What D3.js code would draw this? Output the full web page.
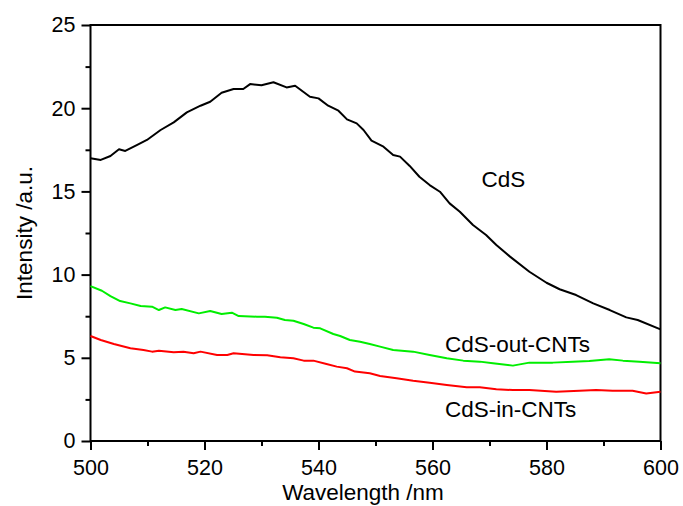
<!DOCTYPE html>
<html><head><meta charset="utf-8">
<script src="https://cdn.jsdelivr.net/npm/d3@7"></script>
<style>body{margin:0;background:#fff}svg text{font-family:"Liberation Sans",Arial,sans-serif}</style>
</head><body><svg id="c" width="683" height="506"></svg>
<script>
const xTicks = [500,520,540,560,580,600];
const yTicks = [0,5,10,15,20,25];
const cdsWl = [500,501.8,503.5,505,506.1,508.2,509.9,512.3,514.6,516.9,519.3,521,523,525.1,526.8,528,530,532.1,534.4,535.9,538.5,540,541.7,543.5,545,546.7,547.9,549.3,551.4,553.1,554.3,556,557.7,559.5,561.3,563,564.8,567.1,569.4,571.2,573.6,577,580,582.3,585.2,588.2,591.1,594,596,600];
const cdsVal = [16.99,16.89,17.13,17.53,17.43,17.79,18.09,18.69,19.15,19.75,20.15,20.39,20.93,21.15,21.15,21.45,21.38,21.56,21.25,21.35,20.69,20.59,20.15,19.85,19.33,19.09,18.69,18.05,17.69,17.19,17.09,16.53,15.88,15.38,14.98,14.28,13.78,12.98,12.38,11.78,11.08,10.17,9.51,9.12,8.77,8.27,7.87,7.43,7.27,6.71];
const outWl = [500,502,503.5,505.2,507,508.8,510.8,512,513.1,514.9,516,519,521,523,524.8,526,529.2,530.6,532.7,534.1,535.6,537.4,539.1,540.3,542.6,543.8,545.5,547.3,549,550.8,553.1,556.6,559.5,562.5,565.4,568.3,570.6,574.1,577,581.1,584.6,587.5,591,593.4,596.3,600];
const outVal = [9.31,9.03,8.71,8.41,8.27,8.11,8.07,7.87,8.03,7.87,7.93,7.67,7.81,7.63,7.71,7.51,7.47,7.47,7.41,7.27,7.23,7.03,6.81,6.77,6.43,6.31,6.07,5.97,5.83,5.67,5.47,5.37,5.17,4.97,4.83,4.77,4.67,4.53,4.71,4.71,4.77,4.81,4.91,4.83,4.77,4.67];
const inWl = [500,501.8,504.1,507,509.3,510.8,512,514.6,516.3,518.1,519.3,522.2,524,525.1,528.6,531,533.3,535.6,537.4,539.1,541.4,543.2,545,546.4,549,550.8,553.7,556.6,559.5,562.5,566,568.3,571.2,574.1,577,581.7,585.8,588.7,591.6,595.1,597.5,600];
const inVal = [6.31,6.07,5.83,5.57,5.47,5.37,5.43,5.33,5.37,5.27,5.37,5.17,5.17,5.27,5.17,5.15,5.03,4.97,4.83,4.83,4.63,4.47,4.37,4.17,4.07,3.91,3.77,3.62,3.50,3.37,3.23,3.23,3.11,3.06,3.06,2.96,3.02,3.06,3.02,3.02,2.86,2.96];
const seriesNames = ["CdS","CdS-out-CNTs","CdS-in-CNTs"];
const seriesColors = ["#000000","#00ee00","#ff0000"];

const svg = d3.select("#c");
const L=90.5,R=660.5,T=25,B=441;
const x = d3.scaleLinear().domain([500,600]).range([L,R]);
const y = d3.scaleLinear().domain([0,25]).range([B,T]);
const fsTick = 21.5, fsLab = 22.5;

// minor ticks
const gxm = svg.append("g").attr("transform",`translate(0,${B})`)
  .call(d3.axisBottom(x).tickValues(d3.range(510,600,20)).tickSize(5).tickFormat(""));
const gym = svg.append("g").attr("transform",`translate(${L},0)`)
  .call(d3.axisLeft(y).tickValues(d3.range(2.5,25,5)).tickSize(5).tickFormat(""));
const gx = svg.append("g").attr("transform",`translate(0,${B})`)
  .call(d3.axisBottom(x).tickValues(xTicks).tickSize(9).tickPadding(6));
const gy = svg.append("g").attr("transform",`translate(${L},0)`)
  .call(d3.axisLeft(y).tickValues(yTicks).tickSize(9).tickPadding(6));
[gxm,gym,gx,gy].forEach(g=>{
  g.select(".domain").remove();
  g.selectAll("line").attr("stroke","#000").attr("stroke-width",2);
  g.selectAll("text").attr("font-size",fsTick).attr("fill","#000").style("font-family","Liberation Sans, Arial, sans-serif");
});
gx.selectAll("text").attr("dy","0.9em");

// frame
svg.append("rect").attr("x",L).attr("y",T).attr("width",R-L).attr("height",B-T)
  .attr("fill","none").attr("stroke","#000").attr("stroke-width",2);

const line = d3.line().x(d=>x(d[0])).y(d=>y(d[1]));
const data = [d3.zip(cdsWl,cdsVal), d3.zip(outWl,outVal), d3.zip(inWl,inVal)];
data.forEach((d,i)=>{
  svg.append("path").datum(d).attr("d",line).attr("fill","none")
    .attr("stroke",seriesColors[i]).attr("stroke-width",2).attr("stroke-linejoin","round");
});

// series labels
const labPos = [[481.5,187],[445,351.5],[445,417]];
seriesNames.forEach((n,i)=>{
  svg.append("text").attr("x",labPos[i][0]).attr("y",labPos[i][1]).attr("font-size",fsLab).text(n);
});

svg.append("text").attr("x",363).attr("y",500).attr("text-anchor","middle").attr("font-size",fsLab).text("Wavelength /nm");
svg.append("text").attr("transform",`translate(32,${(T+B)/2}) rotate(-90)`).attr("text-anchor","middle").attr("font-size",fsLab).text("Intensity /a.u.");
</script></body></html>
